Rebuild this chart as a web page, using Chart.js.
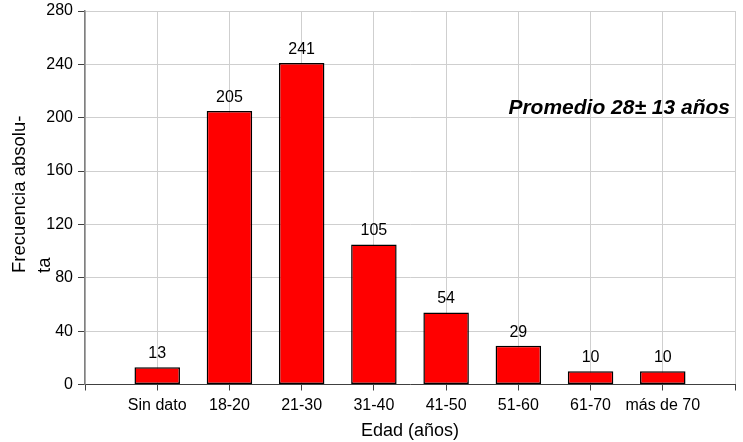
<!DOCTYPE html>
<html>
<head>
<meta charset="utf-8">
<script src="https://cdn.jsdelivr.net/npm/chart.js@4/dist/chart.umd.min.js"></script>
<style>
  html, body { margin: 0; padding: 0; background: #ffffff; }
  #wrap { width: 743px; height: 442px; }
</style>
</head>
<body>
<div id="wrap"><canvas id="c" width="743" height="442"></canvas></div>
<script>
// Age groups and how many people fall in each one
const categories = ['Sin dato', '18-20', '21-30', '31-40', '41-50', '51-60', '61-70', 'más de 70'];
const frequencies = [13, 205, 241, 105, 54, 29, 10, 10];
const yTicks = [0, 40, 80, 120, 160, 200, 240, 280];
const yTitleLines = ['Frecuencia absolu-', 'ta'];
const xTitle = 'Edad (años)';
const noteText = 'Promedio 28± 13 años';

const FONT = '"Liberation Sans", Arial, sans-serif';

// Groups sit at positions 1..8 on an axis that runs from 0 to 9
const points = frequencies.map((v, i) => ({ x: i + 1, y: v }));

// Value printed above every bar
const barValues = {
  id: 'barValues',
  afterDatasetsDraw(chart) {
    const ctx = chart.ctx;
    const meta = chart.getDatasetMeta(0);
    ctx.save();
    ctx.font = '16px ' + FONT;
    ctx.fillStyle = '#000';
    ctx.textAlign = 'center';
    ctx.textBaseline = 'alphabetic';
    meta.data.forEach((bar, i) => {
      ctx.fillText(String(frequencies[i]), bar.x, bar.y - 9);
    });
    ctx.restore();
  }
};

// Wrapped vertical axis title and the mean-age note
const extraText = {
  id: 'extraText',
  afterDraw(chart) {
    const ctx = chart.ctx;
    ctx.save();
    ctx.fillStyle = '#000';
    ctx.font = '18.5px ' + FONT;
    ctx.textAlign = 'left';
    ctx.textBaseline = 'alphabetic';
    const baseX = [25, 50];
    yTitleLines.forEach((line, i) => {
      ctx.save();
      ctx.translate(baseX[i], 273);
      ctx.rotate(-Math.PI / 2);
      ctx.fillText(line, 0, 0);
      ctx.restore();
    });
    ctx.font = 'italic bold 21px ' + FONT;
    ctx.textAlign = 'right';
    ctx.fillText(noteText, 730, 114);
    ctx.restore();
  }
};

new Chart(document.getElementById('c'), {
  type: 'bar',
  data: {
    datasets: [{
      data: points,
      backgroundColor: '#ff0000',
      borderColor: '#000000',
      borderWidth: 1.5,
      borderSkipped: false,
      barPercentage: 0.63,
      categoryPercentage: 1
    }]
  },
  options: {
    responsive: false,
    animation: false,
    layout: { padding: { left: 0, right: 8, top: 11, bottom: 0 } },
    plugins: {
      legend: { display: false },
      tooltip: { enabled: false }
    },
    scales: {
      x: {
        type: 'linear',
        min: 0,
        max: categories.length + 1,
        offset: false,
        afterFit(scale) {
          scale.height = 57.5;
          scale.paddingLeft = 0;
          scale.paddingRight = 0;
        },
        afterBuildTicks(scale) {
          scale.ticks = [];
          for (let i = 0; i <= categories.length + 1; i++) scale.ticks.push({ value: i });
        },
        ticks: {
          autoSkip: false,
          maxRotation: 0,
          padding: 5,
          color: '#000',
          font: { family: FONT, size: 16 },
          callback: (v) => categories[v - 1] || ''
        },
        grid: {
          offset: false,
          color: '#cfcfcf',
          lineWidth: 1,
          tickColor: '#404040',
          tickLength: 6
        },
        border: { color: '#404040', width: 1 },
        title: {
          display: true,
          text: xTitle,
          color: '#000',
          font: { family: FONT, size: 18 },
          padding: { top: 0, bottom: 0 }
        }
      },
      y: {
        min: 0,
        max: 280,
        afterFit(scale) {
          scale.width = 85;
          scale.paddingTop = 0;
          scale.paddingBottom = 0;
        },
        afterBuildTicks(scale) {
          scale.ticks = yTicks.map(v => ({ value: v }));
        },
        ticks: {
          padding: 5,
          color: '#000',
          font: { family: FONT, size: 16 }
        },
        grid: {
          color: '#cfcfcf',
          lineWidth: 1,
          tickColor: '#404040',
          tickLength: 7
        },
        border: { color: '#808080', width: 1.5 }
      }
    }
  },
  plugins: [barValues, extraText]
});
</script>
</body>
</html>
